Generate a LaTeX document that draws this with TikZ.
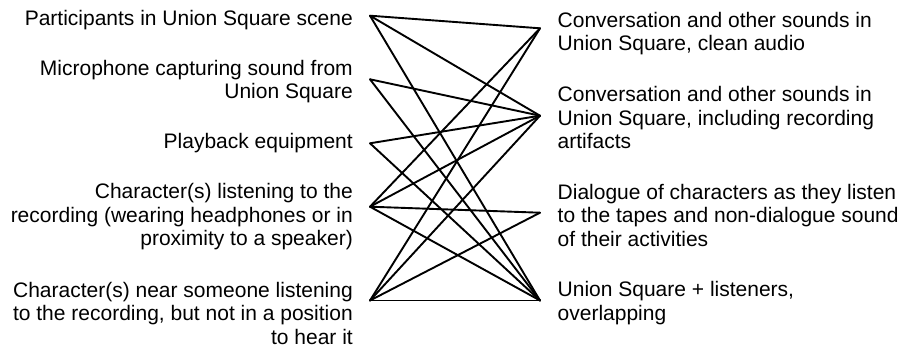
\documentclass[tikz,border=0pt]{standalone}
\usepackage{fontspec}
\setmainfont{Liberation Sans}
\begin{document}
\begin{tikzpicture}[x=1pt,y=-1pt,
  lbl/.style={inner sep=0pt, font=\fontsize{21}{23.5}\selectfont},
  leftlbl/.style={lbl, align=right, anchor=base east},
  rightlbl/.style={lbl, align=left, anchor=base west},
  link/.style={line width=1.9pt, line cap=round, line join=round}]
\useasboundingbox (0,0) rectangle (905,353);
% left labels (anchor = baseline of last line)
\node[leftlbl] (l1) at (353,25.5) {Participants in Union Square scene};
\node[leftlbl] (l2) at (353,98.5) {Microphone capturing sound from\\Union Square};
\node[leftlbl] (l3) at (353,148) {Playback equipment};
\node[leftlbl] (l4) at (353,245.5) {Character(s) listening to the\\recording (wearing headphones or in\\proximity to a speaker)};
\node[leftlbl] (l5) at (353,344) {Character(s) near someone listening\\to the recording, but not in a position\\to hear it};
% right labels
\node[rightlbl] (r1) at (557.5,51) {Conversation and other sounds in\\Union Square, clean audio};
\node[rightlbl] (r2) at (557.5,148.7) {Conversation and other sounds in\\Union Square, including recording\\artifacts};
\node[rightlbl] (r3) at (557.5,246) {Dialogue of characters as they listen\\to the tapes and non-dialogue sound\\of their activities};
\node[rightlbl] (r4) at (557.5,320.2) {Union Square + listeners,\\overlapping};
% connection points
\coordinate (a1) at (370,15.7);
\coordinate (a2) at (370,79.3);
\coordinate (a3) at (370,143.3);
\coordinate (a4) at (370,206.7);
\coordinate (a5) at (370,300.5);
\coordinate (b1) at (540,28.3);
\coordinate (b2) at (540,115.7);
\coordinate (b3) at (540,212.7);
\coordinate (b4) at (540,300.5);
% links
\draw[link] (a1) -- (b1);
\draw[link] (a1) -- (b2);
\draw[link] (a1) -- (b4);
\draw[link] (a2) -- (b2);
\draw[link] (a2) -- (b4);
\draw[link] (a3) -- (b2);
\draw[link] (a3) -- (b4);
\draw[link] (a4) -- (b1);
\draw[link] (a4) -- (b2);
\draw[link] (a4) -- (b3);
\draw[link] (a4) -- (b4);
\draw[link] (a5) -- (b1);
\draw[link] (a5) -- (b2);
\draw[link] (a5) -- (b3);
\draw[link] (a5) -- (b4);
\end{tikzpicture}
\end{document}
